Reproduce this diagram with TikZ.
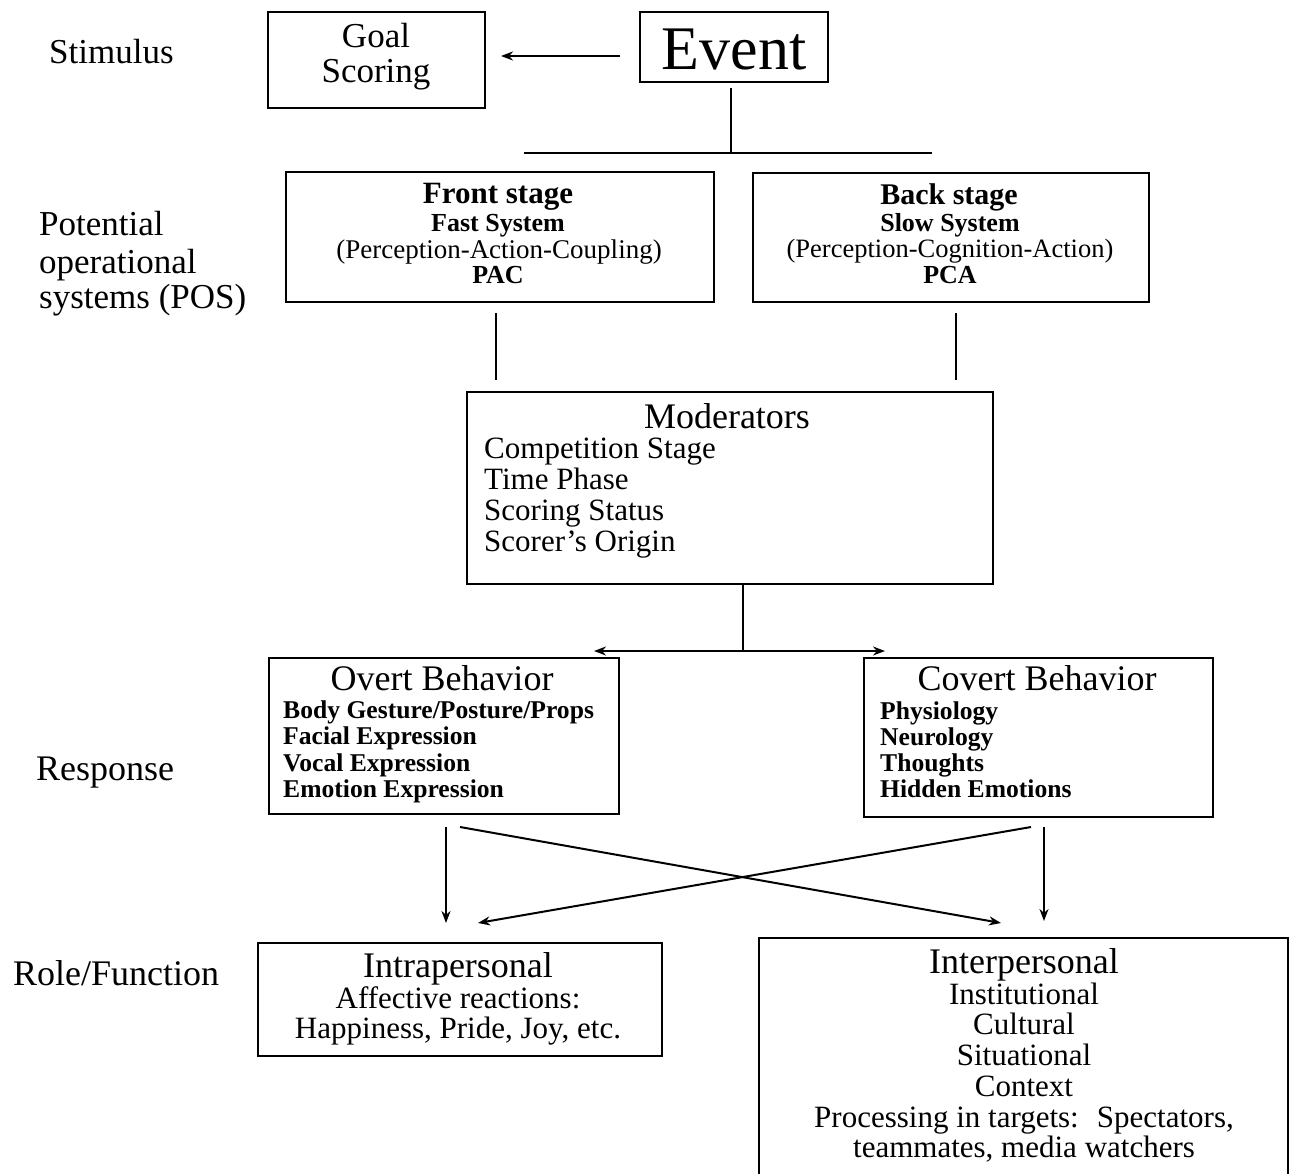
\documentclass[tikz,border=0pt]{standalone}
\usepackage{fontspec}
\setmainfont{Liberation Serif}
\usetikzlibrary{arrows.meta}
\newcommand\fsz[1]{\fontsize{#1}{#1}\selectfont}
\tikzset{
  box/.style={draw, rectangle, line width=2pt, inner sep=0pt},
  txt/.style={inner sep=0pt, anchor=base},
  txl/.style={inner sep=0pt, anchor=base west},
  conn/.style={line width=2pt},
  arr/.style={conn, -{Stealth[length=12pt,width=9pt]}}
}
\begin{document}
\begin{tikzpicture}[x=1pt,y=-1pt]
\useasboundingbox[fill=white] (0,0) rectangle (1293,1173);

% ---- left labels
\node[txl] (stim) at (49,63) {\fsz{35}Stimulus};
\node[txl] (pos1) at (39,235) {\fsz{35}Potential};
\node[txl] (pos2) at (39,273) {\fsz{35}operational};
\node[txl] (pos3) at (39,308) {\fsz{35}systems (POS)};
\node[txl] (resp) at (36,780) {\fsz{36}Response};
\node[txl] (role) at (13,985) {\fsz{36}Role/Function};

% ---- boxes
\node[box, minimum width=217, minimum height=96] (goal) at (376.5,60) {};
\node[box, minimum width=188, minimum height=70] (event) at (734,47) {};
\node[box, minimum width=428, minimum height=130] (front) at (500,237) {};
\node[box, minimum width=396, minimum height=129] (back) at (951,237.5) {};
\node[box, minimum width=526, minimum height=192] (mod) at (730,488) {};
\node[box, minimum width=350, minimum height=156] (overt) at (444,736) {};
\node[box, minimum width=349, minimum height=159] (covert) at (1038.5,737.5) {};
\node[box, minimum width=404, minimum height=113] (intra) at (460,999.5) {};
\node[box, minimum width=529, minimum height=250] (inter) at (1023.5,1063) {};

% ---- texts in boxes
\node[txt] (goalA) at (376,47) {\fsz{35}Goal};
\node[txt] (goalB) at (376,82) {\fsz{35}Scoring};
\node[txt] (eventT) at (734,69) {\fsz{62}Event};

\node[txt] (frA) at (498,203) {\fsz{31}\bfseries Front stage};
\node[txt] (frB) at (498,231) {\fsz{26}\bfseries Fast System};
\node[txt] (frC) at (499,258) {\fsz{27}(Perception-Action-Coupling)};
\node[txt] (frD) at (498,283) {\fsz{26}\bfseries PAC};

\node[txt] (bkA) at (949,204) {\fsz{30}\bfseries Back stage};
\node[txt] (bkB) at (950,231) {\fsz{26}\bfseries Slow System};
\node[txt] (bkC) at (950,257) {\fsz{26.5}(Perception-Cognition-Action)};
\node[txt] (bkD) at (950,283) {\fsz{26}\bfseries PCA};

\node[txt] (modT) at (727,428) {\fsz{36}Moderators};
\node[txl] (modA) at (484,458) {\fsz{31}Competition Stage};
\node[txl] (modB) at (484,489) {\fsz{31}Time Phase};
\node[txl] (modC) at (484,520) {\fsz{31}Scoring Status};
\node[txl] (modD) at (484,551) {\fsz{31}Scorer’s Origin};

\node[txt] (ovT) at (442,690) {\fsz{36}Overt Behavior};
\node[txl] (ovA) at (283,718) {\fsz{25.6}\bfseries Body Gesture/Posture/Props};
\node[txl] (ovB) at (283,744) {\fsz{25.6}\bfseries Facial Expression};
\node[txl] (ovC) at (283,771) {\fsz{25.6}\bfseries Vocal Expression};
\node[txl] (ovD) at (283,797) {\fsz{25.6}\bfseries Emotion Expression};

\node[txt] (cvT) at (1037,690) {\fsz{36}Covert Behavior};
\node[txl] (cvA) at (880,719) {\fsz{25.6}\bfseries Physiology};
\node[txl] (cvB) at (880,745) {\fsz{25.6}\bfseries Neurology};
\node[txl] (cvC) at (880,771) {\fsz{25.6}\bfseries Thoughts};
\node[txl] (cvD) at (880,797) {\fsz{25.6}\bfseries Hidden Emotions};

\node[txt] (inA) at (458,977) {\fsz{36}Intrapersonal};
\node[txt] (inB) at (458,1008) {\fsz{31}Affective reactions:};
\node[txt] (inC) at (458,1038) {\fsz{31}Happiness, Pride, Joy, etc.};

\node[txt] (ipA) at (1024,973) {\fsz{36}Interpersonal};
\node[txt] (ipB) at (1024,1004) {\fsz{31}Institutional};
\node[txt] (ipC) at (1024,1034) {\fsz{31}Cultural};
\node[txt] (ipD) at (1024,1065) {\fsz{31}Situational};
\node[txt] (ipE) at (1024,1096) {\fsz{31}Context};
\node[txt] (ipF) at (1024,1127) {\fsz{31}Processing in targets:~ Spectators,};
\node[txt] (ipG) at (1024,1157) {\fsz{31}teammates, media watchers};

% ---- connector points
\coordinate (evL) at (620,56);
\coordinate (goR) at (501,56);
\coordinate (evB) at (731,88);
\coordinate (evJ) at (731,153);
\coordinate (hL) at (524,153);
\coordinate (hR) at (932,153);
\coordinate (frT) at (496,313);
\coordinate (frM) at (496,380);
\coordinate (bkT) at (956,313);
\coordinate (bkM) at (956,380);
\coordinate (mdB) at (743,584);
\coordinate (mdJ) at (743,651);
\coordinate (ovTop) at (594,651);
\coordinate (cvTop) at (885,651);
\coordinate (ovS) at (446,827);
\coordinate (ovX) at (460,827);
\coordinate (cvS) at (1044,827);
\coordinate (cvX) at (1031,827);
\coordinate (inT) at (446,923);
\coordinate (inX) at (478,923);
\coordinate (ipT) at (1044,921);
\coordinate (ipX) at (1001,923);

% ---- connectors
\draw[arr] (evL) -- (goR);
\draw[conn] (evB) -- (evJ);
\draw[conn] (hL) -- (hR);
\draw[conn] (frT) -- (frM);
\draw[conn] (bkT) -- (bkM);
\draw[conn] (mdB) -- (mdJ);
\draw[arr] (mdJ) -- (ovTop);
\draw[arr] (mdJ) -- (cvTop);
\draw[arr] (ovS) -- (inT);
\draw[arr] (ovX) -- (ipX);
\draw[arr] (cvX) -- (inX);
\draw[arr] (cvS) -- (ipT);
\end{tikzpicture}
\end{document}
